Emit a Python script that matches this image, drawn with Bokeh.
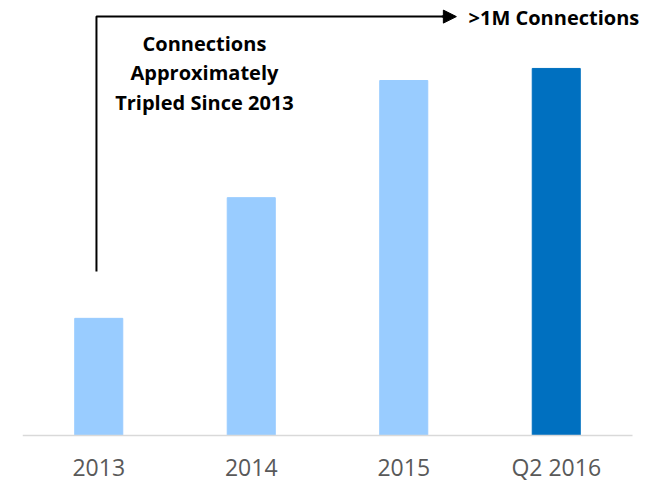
from bokeh.plotting import figure
from bokeh.models import Range1d, FixedTicker, ColumnDataSource, Arrow, NormalHead, Label
from bokeh.embed import file_html
from bokeh.resources import INLINE

categories = ["2013", "2014", "2015", "Q2 2016"]
connections_m = [0.33, 0.67, 1.00, 1.034]
bar_colors = ["#99CCFF", "#99CCFF", "#99CCFF", "#0070C0"]
annotation_lines = ["Connections", "Approximately", "Tripled Since 2013"]
callout_text = ">1M Connections"

xs = [i + 0.5 for i in range(len(categories))]
src = ColumnDataSource(dict(x=xs, top=connections_m, color=bar_colors))

p = figure(width=658, height=482, output_backend="svg", toolbar_location=None,
           x_range=Range1d(0, 4.118), y_range=Range1d(-0.1324, 1.2254),
           min_border_left=22, min_border_right=8, min_border_top=0, min_border_bottom=0)
p.vbar(x="x", top="top", bottom=0, width=0.315, color="color", source=src)

p.yaxis.visible = False
p.grid.visible = False
p.outline_line_color = None
p.xaxis.fixed_location = 0
p.xaxis.bounds = (0, 4)
p.xaxis.ticker = FixedTicker(ticks=xs)
p.xaxis.major_label_overrides = {x: c for x, c in zip(xs, categories)}
p.xaxis.major_tick_line_color = None
p.xaxis.minor_tick_line_color = None
p.xaxis.axis_line_color = "#d9d9d9"
p.xaxis.axis_line_width = 1.5
p.xaxis.major_label_text_font = "Open Sans"
p.xaxis.major_label_text_font_size = "23px"
p.xaxis.major_label_text_color = "#595959"
p.xaxis.major_label_standoff = 10

# bracket arrow
x_line = 0.485
y_top = 1.180
y_bot = 0.462
p.line(x=[x_line, x_line, 2.80], y=[y_bot, y_top, y_top], line_color="black", line_width=2)
p.add_layout(Arrow(x_start=2.75, y_start=y_top, x_end=2.845, y_end=y_top,
                   line_color="black", line_width=2,
                   end=NormalHead(size=13, fill_color="black", line_color="black")))

p.add_layout(Label(x=2.925, y=y_top - 0.003, text=callout_text, text_font="Open Sans",
                   text_font_style="bold", text_font_size="20px", text_color="black",
                   text_baseline="middle", text_align="left"))

for txt, yy in zip(annotation_lines, [1.104, 1.0225, 0.938]):
    p.add_layout(Label(x=1.193, y=yy, text=txt, text_font="Open Sans",
                       text_font_style="bold", text_font_size="20px", text_color="black",
                       text_baseline="middle", text_align="center"))

open("out.html", "w").write(file_html(p, INLINE))
